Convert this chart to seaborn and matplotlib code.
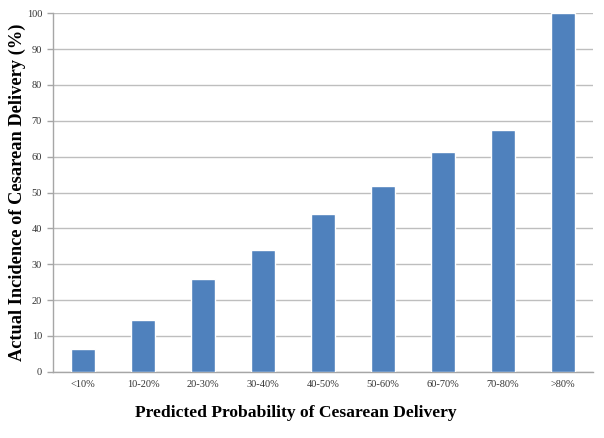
import matplotlib
matplotlib.use("Agg")
import matplotlib.pyplot as plt
import seaborn as sns
import pandas as pd
import numpy as np

# data
categories = ["<10%", "10-20%", "20-30%", "30-40%", "40-50%",
              "50-60%", "60-70%", "70-80%", ">80%"]
incidence = [6.5, 14.5, 26.0, 34.0, 44.0, 51.7, 61.3, 67.3, 100.0]

df = pd.DataFrame({"group": categories, "pct": incidence})

sns.set_style("white")
plt.rcParams["font.family"] = ["Liberation Serif", "DejaVu Serif"]

fig = plt.figure(figsize=(6.04, 4.38), dpi=100)
ax = fig.add_axes([0.088, 0.151, 0.894, 0.819])

sns.barplot(data=df, x="group", y="pct", color="#4F81BD", saturation=1,
            width=0.39, ax=ax, zorder=3)

ax.set_ylim(0, 100)
ax.set_xlim(-0.5, len(categories) - 0.5)
ax.set_yticks(np.arange(0, 101, 10))
ax.yaxis.grid(True, color="#BEBEBE", linewidth=1.0, zorder=0)
ax.set_axisbelow(True)

for s in ["top", "right"]:
    ax.spines[s].set_visible(False)
for s in ["left", "bottom"]:
    ax.spines[s].set_color("#A6A6A6")
    ax.spines[s].set_linewidth(1.0)

# ticks between categories on x, like Excel
ax.set_xticks(np.arange(-0.5, len(categories), 1.0), minor=True)
ax.tick_params(axis="x", which="major", length=0, labelsize=7.5,
               labelcolor="#333333", pad=6)
ax.tick_params(axis="x", which="minor", length=4, color="#A6A6A6", width=1)
ax.tick_params(axis="y", which="major", length=4, color="#A6A6A6", width=1,
               labelsize=7.5, labelcolor="#333333", left=True, pad=4)

ax.set_xlabel("Predicted Probability of Cesarean Delivery", fontsize=12.6,
              fontweight="bold", color="black")
ax.xaxis.set_label_coords(0.45, -0.091, transform=ax.transAxes)
ax.xaxis.label.set_va("top")
ax.set_ylabel("Actual Incidence of Cesarean Delivery (%)", fontsize=13.2,
              fontweight="bold", color="black")
ax.yaxis.set_label_coords(-0.050, 0.50)

fig.savefig("out.png", dpi=100)
